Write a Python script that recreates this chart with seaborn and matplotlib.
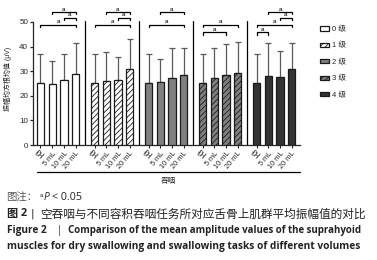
import numpy as np
import pandas as pd
import matplotlib
matplotlib.use("Agg")
import matplotlib.pyplot as plt
import seaborn as sns
from matplotlib.patches import Patch
from matplotlib.lines import Line2D

# ---------------- data ----------------
groups = ["0 级", "1 级", "2 级", "3 级", "4 级"]
volumes = ["空", "5 mL", "10 mL", "20 mL"]
mean_g0 = [25.1, 24.7, 26.4, 28.7]
mean_g1 = [25.1, 26.1, 26.3, 30.8]
mean_g2 = [25.1, 25.6, 27.1, 28.6]
mean_g3 = [25.1, 27.4, 28.5, 29.4]
mean_g4 = [25.1, 28.0, 27.5, 30.8]
sd_g0 = [11.9, 9.3, 10.6, 12.9]
sd_g1 = [11.9, 11.6, 9.6, 12.4]
sd_g2 = [11.9, 9.5, 12.2, 10.7]
sd_g3 = [11.9, 12.2, 12.4, 12.3]
sd_g4 = [11.9, 13.3, 10.8, 10.5]
# significance brackets: (group, from bar, to bar, height)
sig_pairs = [
    (0, 0, 3, 48.8), (0, 2, 3, 51.8), (0, 1, 3, 54.0),
    (1, 0, 3, 48.8), (1, 2, 3, 51.8), (1, 1, 3, 54.0),
    (2, 0, 3, 48.8), (2, 1, 3, 54.0),
    (3, 0, 2, 45.8), (3, 0, 3, 48.8),
    (4, 0, 1, 45.8), (4, 0, 3, 48.8), (4, 2, 3, 51.8), (4, 1, 3, 54.0),
]
yticks = [0, 10, 20, 30, 40, 50]
ylabel = "振幅均方根均值 (μV)"
xgroup_label = "吞咽"

means = [mean_g0, mean_g1, mean_g2, mean_g3, mean_g4]
sds = [sd_g0, sd_g1, sd_g2, sd_g3, sd_g4]

# ---------------- style ----------------
sns.set_theme(style="ticks")
plt.rcParams["font.family"] = ["Liberation Sans", "Noto Sans CJK SC"]
plt.rcParams["hatch.linewidth"] = 0.6
plt.rcParams["axes.linewidth"] = 0.9

face = ["#ffffff", "#ffffff", "#808080", "#808080", "#333333"]
hatches = [None, "//////", None, "//////", None]
edge = "#1a1a1a"

GAP = 4.62
rows = []
for g in range(5):
    for i in range(4):
        rows.append({"pos": g * GAP + i, "value": means[g][i], "sd": sds[g][i],
                     "group": groups[g], "vol": volumes[i], "gi": g})
df = pd.DataFrame(rows)

fig = plt.figure(figsize=(3.77, 2.60), dpi=100)
W, H = 377, 260
ax = fig.add_axes([33 / W, 1 - 145 / H, (300 - 33) / W, (145 - 3.55) / H])

sns.barplot(data=df, x="pos", y="value", hue="group", hue_order=groups,
            palette=dict(zip(groups, face)), native_scale=True, dodge=False,
            width=0.62, edgecolor=edge, linewidth=0.9, errorbar=None,
            legend=False, ax=ax, zorder=3)

positions = df["pos"].to_numpy()
for p in ax.patches:
    cx = p.get_x() + p.get_width() / 2
    k = int(np.argmin(np.abs(positions - cx)))
    g = df["gi"].iloc[k]
    if hatches[g]:
        p.set_hatch(hatches[g])
    p.set_edgecolor(edge)

ax.errorbar(df["pos"], df["value"], yerr=[np.zeros(len(df)), df["sd"]],
            fmt="none", ecolor="#5a5a5a", elinewidth=0.9, capsize=2,
            capthick=0.9, zorder=2)

# group separators
for g in range(4):
    xm = (g * GAP + 3 + (g + 1) * GAP) / 2
    ax.plot([xm, xm], [0, 50.5], color="black", lw=0.9, zorder=1)

# significance brackets
for g, i, j, y in sig_pairs:
    x1, x2 = g * GAP + i, g * GAP + j
    ax.plot([x1, x1, x2, x2], [y - 0.9, y, y, y - 0.9], color="black", lw=0.9,
            zorder=4, clip_on=False)
    ax.text((x1 + x2) / 2, y + 0.2, "a", ha="center", va="bottom",
            fontsize=4.5, color="black")

ax.set_xlim(-0.64, 22.18)
ax.set_ylim(0, 57.5)
ax.set_yticks(yticks)
ax.set_yticklabels([str(t) for t in yticks])
ax.set_xticks(positions)
ax.set_xticklabels(df["vol"], rotation=50, ha="right", rotation_mode="anchor")
ax.tick_params(axis="y", labelsize=5.8, length=2.5, width=0.9, pad=1)
ax.tick_params(axis="x", labelsize=5.3, length=2.5, width=0.8, pad=1)
ax.set_xlabel("")
ax.set_ylabel(ylabel, fontsize=5, labelpad=2)
ax.yaxis.set_label_coords((12 - 33) / 267, 0.47)
sns.despine(ax=ax)
ax.spines["left"].set_bounds(0, 50)
ax.set_facecolor("none")

# group axis line + label
fig.add_artist(Line2D([37 / W, 300 / W], [1 - 172 / H, 1 - 172 / H],
                      color="black", lw=0.9))
fig.text(168 / W, 1 - 181 / H, xgroup_label, ha="center", va="center",
         fontsize=5.5)

# legend
handles = [Patch(facecolor=face[g], edgecolor=edge, hatch=hatches[g], lw=0.9)
           for g in range(5)]
fig.legend(handles, groups, loc="upper left", bbox_to_anchor=(320 / W, 1 - 26 / H),
           frameon=False, fontsize=5.5, handlelength=1.2, handleheight=0.45,
           handletextpad=0.4, labelspacing=1.2, borderaxespad=0, borderpad=0)

# caption
fig.canvas.draw()
renderer = fig.canvas.get_renderer()


def put(x, y, s, width=None, **kw):
    t = fig.text(x / W, 1 - y / H, s, va="center", ha="left", **kw)
    if width is not None:
        w = t.get_window_extent(renderer).width
        t.set_fontsize(t.get_fontsize() * width / w)
    return t


put(6, 198, "图注：", width=31, fontsize=7.3, color="#555555",
    family=["Noto Sans CJK SC"])
put(40, 195.5, "a", fontsize=4.5, color="#333333")
put(44, 198, "P", fontsize=7.3, style="italic", color="#222222",
    family=["Open Sans"])
put(52, 198, "< 0.05", width=30, fontsize=7.3, color="#222222",
    family=["Open Sans"])
put(6, 214, "图", fontsize=8, weight="bold", color="#222222",
    family=["Noto Sans CJK SC"])
put(20.5, 214, "2", fontsize=7.8, weight="bold", color="#222222",
    family=["Open Sans"])
put(31, 214, "|", fontsize=7.5, color="#222222", family=["DejaVu Sans"])
put(40, 214, "空吞咽与不同容积吞咽任务所对应舌骨上肌群平均振幅值的对比",
    width=328, fontsize=7.9, color="#222222", family=["Noto Sans CJK SC"])
put(7, 230, "Figure 2", width=40, fontsize=7.2, weight="bold", color="#222222",
    family=["Open Sans"])
put(57, 230, "|", fontsize=7.2, color="#222222", family=["Open Sans"])
put(68, 230, "Comparison of the mean amplitude values of the suprahyoid",
    width=294, fontsize=7.2, weight="bold", color="#222222", family=["Open Sans"])
put(7, 246, "muscles for dry swallowing and swallowing tasks of different volumes",
    width=354, fontsize=7.2, weight="bold", color="#222222", family=["Open Sans"])

fig.savefig("out.png", dpi=100)
